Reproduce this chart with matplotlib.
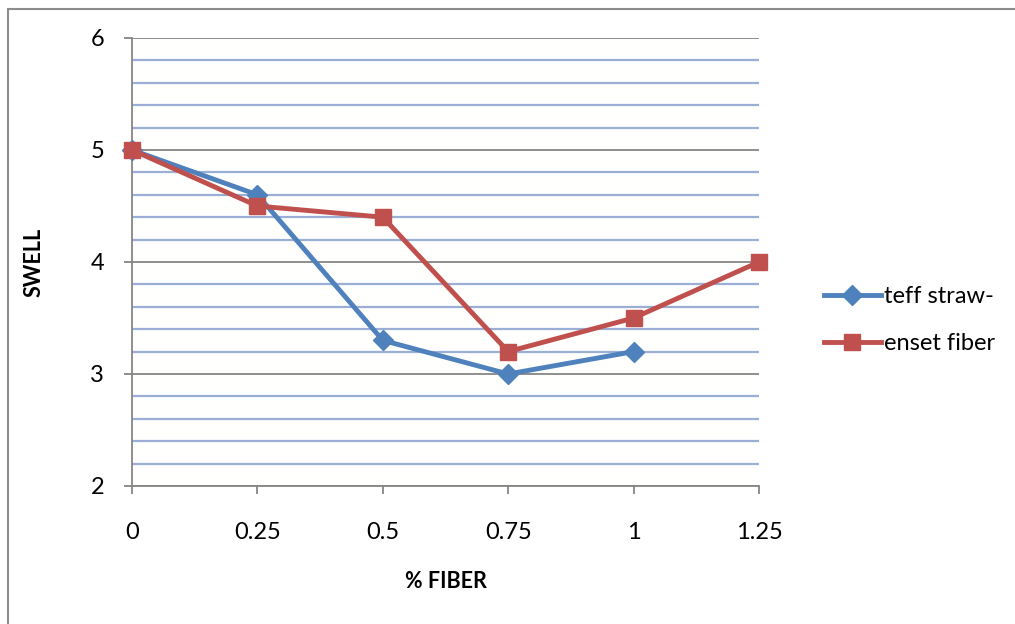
import numpy as np
import matplotlib.pyplot as plt
from matplotlib.patches import Rectangle
from matplotlib.ticker import MultipleLocator

# data
fiber = [0, 0.25, 0.5, 0.75, 1, 1.25]
x_labels = ['0', '0.25', '0.5', '0.75', '1', '1.25']
teff = [5, 4.6, 3.3, 3.0, 3.2]
enset = [5, 4.5, 4.4, 3.2, 3.5, 4.0]

blue = '#4F81BD'
red = '#C0504D'
grid_major = '#868686'
grid_minor = '#9AAED6'

plt.rcParams['font.family'] = ['Lato', 'DejaVu Sans']

fig = plt.figure(figsize=(10.15, 6.24), dpi=100)
ax = fig.add_axes([132 / 1015, 1 - 486 / 624, (759 - 132) / 1015, (486 - 38) / 624])

# outer chart border
fig.patches.append(Rectangle((8 / 1015, -0.01), 1.02, 1 - 9 / 624 + 0.01,
                             transform=fig.transFigure, fill=False,
                             edgecolor='#8C8C8C', linewidth=1.5))

ax.set_facecolor('#FFFFFD')
ax.set_xlim(0, 1.25)
ax.set_ylim(2, 6)
ax.yaxis.set_major_locator(MultipleLocator(1))
ax.yaxis.set_minor_locator(MultipleLocator(0.2))
ax.set_xticks(fiber)
ax.set_xticklabels(x_labels)

ax.grid(which='minor', axis='y', color=grid_minor, linewidth=1.6, zorder=0)
ax.grid(which='major', axis='y', color=grid_major, linewidth=1.3, zorder=0)

ax.plot(fiber[:len(teff)], teff, color=blue, linewidth=3.5, marker='D',
        markersize=10, label='teff straw-', zorder=3, clip_on=False)
ax.plot(fiber, enset, color=red, linewidth=3.5, marker='s',
        markersize=12, label='enset fiber', zorder=4, clip_on=False)

for side in ['top', 'right']:
    ax.spines[side].set_visible(False)
for side in ['left', 'bottom']:
    ax.spines[side].set_color(grid_major)
    ax.spines[side].set_linewidth(1.3)

ax.tick_params(axis='both', which='major', length=6, width=1.3, color=grid_major,
               labelsize=17, pad=14)
ax.tick_params(axis='y', which='minor', length=0)
ax.tick_params(axis='x', pad=20)

ax.set_xlabel('% FIBER', fontsize=15.5, fontweight='bold', labelpad=20)
ax.set_ylabel('SWELL', fontsize=15.5, fontweight='bold', labelpad=33)

ax.legend(loc='center left', bbox_to_anchor=(1.07, 0.37), frameon=False,
          fontsize=17, handlelength=2.4, handletextpad=0.15, labelspacing=1.1)

fig.savefig('out.png', dpi=100)
